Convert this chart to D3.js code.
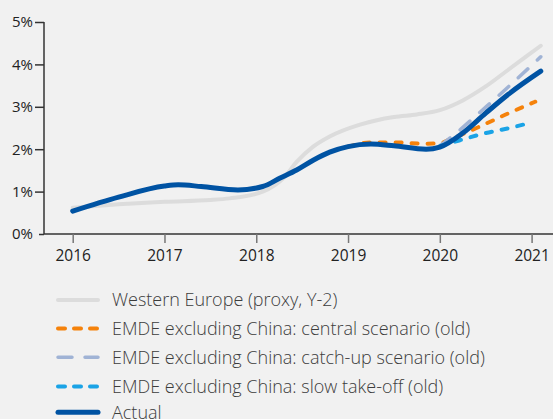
<!DOCTYPE html>
<html>
<head>
<meta charset="utf-8">
<script src="https://cdn.jsdelivr.net/npm/d3@7"></script>
<style>
  html, body { margin: 0; padding: 0; background: #f1f1f1; }
  svg { display: block; }
</style>
</head>
<body>
<svg id="chart" width="553" height="419"></svg>
<script>
// ---- data (decimal years, percent) ----
const yearTicks = [2016, 2017, 2018, 2019, 2020, 2021];
const yTicks = [0, 1, 2, 3, 4, 5];

const westernEurope = [
  [2016.0, 0.62], [2016.5, 0.70], [2017.0, 0.76], [2017.5, 0.80], [2017.71, 0.84],
  [2018.07, 1.00], [2018.31, 1.35], [2018.44, 1.70], [2018.62, 2.06], [2018.8, 2.30],
  [2019.13, 2.58], [2019.5, 2.76], [2019.75, 2.82], [2020.0, 2.92], [2020.25, 3.15],
  [2020.5, 3.48], [2020.75, 3.88], [2021.1, 4.44]
];
const centralScenario = [
  [2019.0, 2.06], [2019.25, 2.16], [2019.5, 2.16], [2019.85, 2.13], [2020.0, 2.14],
  [2020.1, 2.22], [2020.4, 2.50], [2020.7, 2.80], [2021.04, 3.12]
];
const catchUpScenario = [
  [2020.0, 2.08], [2020.15, 2.33], [2020.4, 2.80], [2020.7, 3.38], [2021.1, 4.18]
];
const slowTakeOff = [
  [2020.0, 2.07], [2020.2, 2.20], [2020.5, 2.38], [2020.8, 2.52], [2020.98, 2.62]
];
const actual = [
  [2016.0, 0.54], [2016.5, 0.87], [2017.0, 1.13], [2017.15, 1.16], [2017.4, 1.12],
  [2017.8, 1.04], [2018.07, 1.12], [2018.26, 1.32], [2018.44, 1.51], [2018.62, 1.74],
  [2018.8, 1.93], [2019.0, 2.06], [2019.25, 2.12], [2019.5, 2.08], [2019.85, 2.00],
  [2020.0, 2.05], [2020.25, 2.38], [2020.5, 2.85], [2020.75, 3.30], [2021.1, 3.84]
];

const seriesNames = [
  "Western Europe (proxy, Y-2)",
  "EMDE excluding China: central scenario (old)",
  "EMDE excluding China: catch-up scenario (old)",
  "EMDE excluding China: slow take-off (old)",
  "Actual"
];

// ---- styles ----
const styles = [
  { color: "#dcdcdc", width: 4,   dash: null,    legendDash: null },
  { color: "#f5820b", width: 4,   dash: "6,10",  legendDash: "7,9" },
  { color: "#a0b3d5", width: 3.5, dash: "13,13", legendDash: "14,13" },
  { color: "#1aa3e6", width: 4,   dash: "6,10",  legendDash: "7,9" },
  { color: "#0053a3", width: 5,   dash: null,    legendDash: null }
];
const seriesData = [westernEurope, centralScenario, catchUpScenario, slowTakeOff, actual];

const svg = d3.select("#chart");
const x = d3.scaleLinear().domain([2016, 2021]).range([72.7, 531.6]);
const y = d3.scaleLinear().domain([0, 5]).range([234, 22]);
const axisX0 = 44;

// y axis
const yAxis = d3.axisLeft(y).tickValues(yTicks).tickSize(9).tickPadding(2)
  .tickFormat(d => d + "%");
const gy = svg.append("g").attr("transform", `translate(${axisX0},0)`).call(yAxis);
gy.select(".domain").attr("stroke", "#333").attr("stroke-width", 1.5).attr("d", `M0,${y(5)}V${y(0)}`);
gy.selectAll(".tick line").attr("stroke", "#333").attr("stroke-width", 1.5)
  .attr("x2", d => d === 0 ? -5 : -9);
gy.selectAll(".tick text").attr("fill", "#222").style("font-family", "'Open Sans', sans-serif").style("font-size", "15px");

// x axis
const xAxis = d3.axisBottom(x).tickValues(yearTicks).tickSize(9).tickPadding(6.5).tickFormat(d3.format("d"));
const gx = svg.append("g").attr("transform", `translate(0,${y(0)})`).call(xAxis);
gx.select(".domain").attr("stroke", "#333").attr("stroke-width", 1.5).attr("d", `M${axisX0},0H553`);
gx.selectAll(".tick line").attr("stroke", "#777").attr("stroke-width", 1.5);
gx.selectAll(".tick text").attr("fill", "#222").style("font-family", "'Open Sans', sans-serif").style("font-size", "15.5px");

// lines
const line = d3.line().x(d => x(d[0])).y(d => y(d[1])).curve(d3.curveMonotoneX);
seriesData.forEach((data, i) => {
  const s = styles[i];
  svg.append("path")
    .datum(data)
    .attr("d", line)
    .attr("fill", "none")
    .attr("stroke", s.color)
    .attr("stroke-width", s.width)
    .attr("stroke-linecap", "round")
    .attr("stroke-linejoin", "round")
    .attr("stroke-dasharray", s.dash);
});

// legend
const legendRows = [300, 328.5, 357.3, 386.5, 412.3];
const lg = svg.append("g");
seriesNames.forEach((name, i) => {
  const s = styles[i];
  const ly = legendRows[i];
  lg.append("line")
    .attr("x1", 58).attr("x2", 98)
    .attr("y1", ly).attr("y2", ly)
    .attr("stroke", s.color)
    .attr("stroke-width", s.width)
    .attr("stroke-linecap", "round")
    .attr("stroke-dasharray", s.legendDash);
  lg.append("text")
    .attr("x", 112).attr("y", ly + 6.3)
    .attr("fill", "#3c3c3c")
    .style("font-family", "'Open Sans', sans-serif")
    .style("font-weight", 300)
    .style("font-size", "18px")
    .text(name);
});
</script>
</body>
</html>
